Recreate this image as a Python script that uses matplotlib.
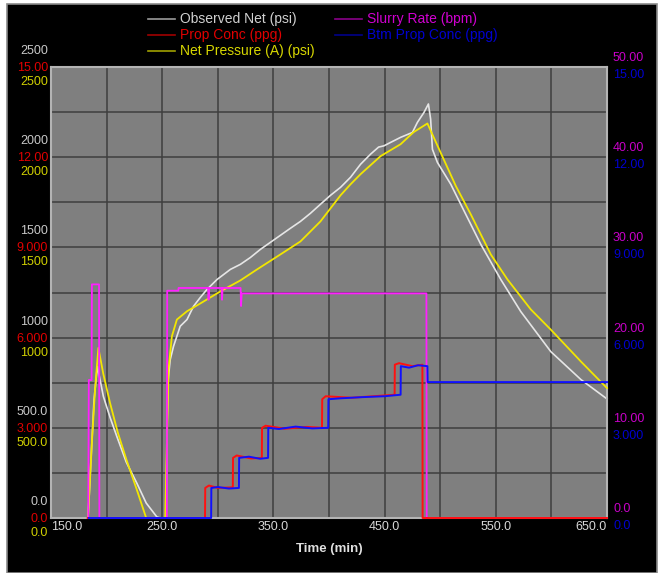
import matplotlib
matplotlib.use("Agg")
import matplotlib.pyplot as plt
from matplotlib import transforms
from matplotlib.lines import Line2D
from matplotlib.patches import Rectangle

plt.rcParams['font.family'] = ['Liberation Sans', 'DejaVu Sans']

# Observed Net (psi)
obs_t = [183.3, 188.7, 191.7, 194.1, 197.1, 203.2, 209.2, 217.6, 227.2, 235.6, 245.2, 248.2,
         253.6, 254.5, 255.4, 257.2, 260.2, 266.2, 272.3, 278.2, 284.2, 290.3, 299.3, 311.3,
         320.3, 329.3, 338.3, 347.3, 356.3, 365.3, 374.3, 383.3, 392.3, 401.4, 410.4, 419.4,
         428.4, 437.4, 444.6, 449.4, 455.4, 464.4, 475.0, 479.5, 485.4, 489.4, 491.4, 493.0,
         497.5, 509.5, 523.0, 536.5, 554.5, 572.5, 599.5, 626.6, 650.0]
obs_p = [0, 656, 840, 767, 674, 556, 452, 311, 193, 83, 6, 0,
         0, 544, 767, 878, 952, 1063, 1100, 1174, 1222, 1267, 1322, 1378,
         1406, 1444, 1489, 1528, 1567, 1606, 1644, 1689, 1739, 1789, 1833, 1889,
         1961, 2017, 2056, 2063, 2082, 2110, 2137, 2193, 2248, 2295, 2211, 2044,
         1971, 1850, 1683, 1517, 1322, 1144, 922, 767, 660]

# Net Pressure (A) (psi)
net_t = [183.3, 186.9, 189.6, 192.6, 197.0, 203.0, 210.0, 218.0, 227.0, 235.6, 252.7, 255.7,
         258.7, 263.2, 272.3, 284.2, 302.3, 320.3, 335.3, 356.3, 374.3, 392.3, 410.4, 419.4,
         428.4, 446.4, 464.4, 476.1, 488.5, 500.5, 514.0, 527.5, 545.5, 560.5, 581.5, 599.5,
         626.6, 650.0]
net_p = [0, 433, 711, 943, 800, 640, 475, 320, 160, 0, 0, 822,
         1007, 1100, 1146, 1189, 1256, 1317, 1378, 1461, 1533, 1644, 1789, 1850,
         1906, 2006, 2072, 2139, 2187, 2024, 1841, 1683, 1461, 1322, 1156, 1044,
         867, 720]

# Slurry Rate (bpm)
rate_t = [183.5, 184.0, 186.5, 186.8, 193.2, 193.5, 254.2, 254.5, 264.5, 264.7, 291.3, 291.7,
          292.2, 303.4, 303.8, 304.3, 320.5, 320.9, 321.5, 487.6, 487.9, 650.0]
rate_q = [0, 15.3, 15.3, 25.9, 25.9, 0, 0, 25.2, 25.2, 25.5, 25.5, 24.2,
          25.5, 25.5, 24.2, 25.5, 25.5, 23.5, 24.9, 24.9, 0, 0]

# Prop Conc (ppg)
conc_t = [183.0, 288.5, 288.7, 292.0, 300.0, 313.5, 313.7, 317.0, 330.0, 339.6, 339.8, 343.0,
          360.0, 380.0, 393.7, 393.9, 397.0, 420.0, 440.0, 459.0, 459.2, 463.0, 475.0, 484.0,
          484.2, 650.0]
conc_v = [0, 0, 1.0, 1.08, 1.0, 1.02, 2.0, 2.08, 1.98, 2.0, 3.0, 3.07,
          2.97, 3.03, 3.0, 3.95, 4.05, 4.0, 4.05, 4.1, 5.1, 5.15, 5.05, 5.1,
          0, 0]

# Btm Prop Conc (ppg)
btm_t = [184.0, 294.0, 294.2, 300.0, 310.0, 319.0, 319.2, 328.0, 338.0, 345.2, 345.4, 355.0,
         370.0, 385.0, 399.3, 399.5, 410.0, 430.0, 450.0, 464.4, 464.6, 472.0, 480.0, 488.5,
         488.7, 650.0]
btm_v = [0, 0, 1.0, 1.03, 0.98, 1.0, 2.0, 2.04, 1.97, 2.0, 3.0, 2.96,
         3.04, 2.98, 3.0, 3.95, 3.98, 4.02, 4.05, 4.1, 5.05, 5.0, 5.08, 5.05,
         4.52, 4.52]

psi_ticks = [0, 500, 1000, 1500, 2000, 2500]
psi_labels = ['0.0', '500.0', '1000', '1500', '2000', '2500']
conc_ticks = [0, 3, 6, 9, 12, 15]
conc_labels = ['0.0', '3.000', '6.000', '9.000', '12.00', '15.00']
rate_ticks = [0, 10, 20, 30, 40, 50]
rate_labels = ['0.0', '10.00', '20.00', '30.00', '40.00', '50.00']
time_ticks = [150, 250, 350, 450, 550, 650]
time_labels = ['150.0', '250.0', '350.0', '450.0', '550.0', '650.0']

W, H = 661, 573
fig = plt.figure(figsize=(W / 100, H / 100), dpi=100)
fig.patch.set_facecolor('white')
fig.add_artist(Rectangle((7 / W, 0), 650 / W, 569 / H, transform=fig.transFigure,
                         facecolor='black', edgecolor='#8a8a8a', lw=1.2, zorder=-10))

ax = fig.add_axes([51 / W, 55 / H, 556 / W, 451 / H])
ax.set_facecolor('#7f7f7f')
ax.set_xlim(150, 650)
ax.set_ylim(0, 2500)
ax.set_xticks(range(150, 651, 50))
ax.set_yticks(range(0, 2501, 250))
ax.grid(True, color='#3e3e3e', lw=1.1)
ax.tick_params(length=0, labelbottom=False, labelleft=False)
for s in ax.spines.values():
    s.set_color('#b4b4b4')
    s.set_linewidth(1.5)


def overlay(lo, hi):
    a = ax.twinx()
    a.set_ylim(lo, hi)
    a.axis('off')
    return a


# creation order decides drawing order: rate under conc under btm
ax_rate = overlay(0, 50)
ax_conc = overlay(0, 15)
ax_btm = overlay(0, 15)

ax.plot(obs_t, obs_p, color='#e6e6e6', lw=1.2, zorder=2, clip_on=False)
ax.plot(net_t, net_p, color='#f2e600', lw=1.3, zorder=3, clip_on=False)
ax_rate.plot(rate_t, rate_q, color='#ff20ff', lw=1.3, clip_on=False)
ax_conc.plot(conc_t, conc_v, color='#ff1010', lw=1.4, clip_on=False)
ax_btm.plot(btm_t, btm_v, color='#1010ff', lw=1.4, clip_on=False)

fs = 9


def axis_labels(a, ticks, labels, color, dy, side):
    base = transforms.blended_transform_factory(a.transAxes, a.transData)
    if side == 'left':
        tr = transforms.offset_copy(base, fig=fig, x=-3, y=dy, units='dots')
        x, ha = 0, 'right'
    else:
        tr = transforms.offset_copy(base, fig=fig, x=6, y=dy, units='dots')
        x, ha = 1, 'left'
    for v, s in zip(ticks, labels):
        a.text(x, v, s, transform=tr, ha=ha, va='center', color=color,
               fontsize=fs, clip_on=False)


axis_labels(ax, psi_ticks, psi_labels, '#c8c8c8', 16, 'left')
axis_labels(ax_conc, conc_ticks, conc_labels, '#e00000', -1, 'left')
axis_labels(ax, psi_ticks, psi_labels, '#d0d000', -15, 'left')
axis_labels(ax_rate, rate_ticks, rate_labels, '#c800c8', 9, 'right')
axis_labels(ax_btm, conc_ticks, conc_labels, '#0000d0', -8, 'right')

xtr = transforms.offset_copy(transforms.blended_transform_factory(ax.transData, ax.transAxes),
                             fig=fig, y=-9, units='dots')
for v, s in zip(time_ticks, time_labels):
    ha = 'left' if v == time_ticks[0] else ('right' if v == time_ticks[-1] else 'center')
    ax.text(v, 0, s, transform=xtr, ha=ha, va='center', color='#d8d8d8', fontsize=fs)
ax.text(0.5, 0, 'Time (min)', transform=transforms.offset_copy(ax.transAxes, fig=fig, y=-31, units='dots'),
        ha='center', va='center', color='#e0e0e0', fontsize=fs + 0.5, fontweight='bold')

legend = [
    (148, 19, '#9a9a9a', '#d0d0d0', 'Observed Net (psi)'),
    (148, 35, '#a00000', '#e00000', 'Prop Conc (ppg)'),
    (148, 51, '#a0a000', '#d8d800', 'Net Pressure (A) (psi)'),
    (335, 19, '#8a008a', '#d000d0', 'Slurry Rate (bpm)'),
    (335, 35, '#00008a', '#0000d0', 'Btm Prop Conc (ppg)'),
]
for x0, y0, lc, tc, name in legend:
    fig.add_artist(Line2D([x0 / W, (x0 + 27) / W], [1 - y0 / H, 1 - y0 / H], color=lc, lw=1.2))
    fig.text((x0 + 32) / W, 1 - y0 / H, name, color=tc, fontsize=fs + 1, va='center', ha='left')

fig.savefig('out.png', dpi=100, facecolor=fig.get_facecolor())
